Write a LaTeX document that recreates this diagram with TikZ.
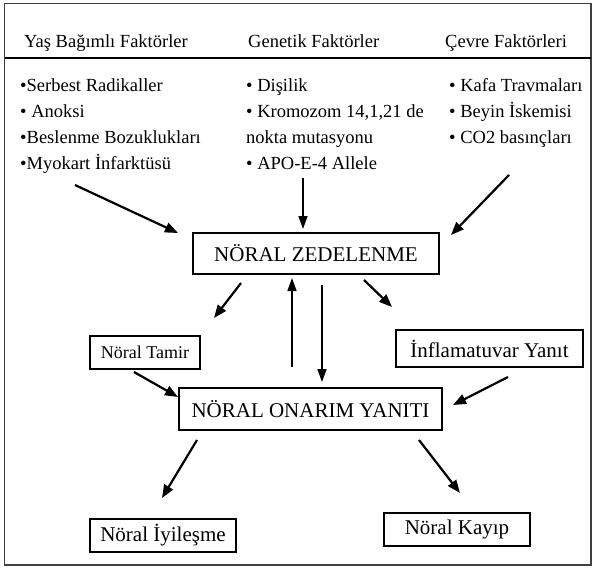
\documentclass[tikz,border=0pt]{standalone}
\usepackage{fontspec}
\setmainfont{Liberation Serif}
\usetikzlibrary{arrows.meta}
\begin{document}
\begin{tikzpicture}[x=1pt,y=-1pt,
  txt/.style={anchor=base west,inner sep=0pt,font=\fontsize{18.5}{20}\selectfont},
  bigbox/.style={draw,line width=1.8pt,inner sep=0pt,font=\fontsize{21}{24}\selectfont},
  smallbox/.style={draw,line width=1.8pt,inner sep=0pt,font=\fontsize{18}{20}\selectfont},
  arr/.style={line width=2.2pt,-{Triangle[length=13pt,width=10pt]}},
  varr/.style={line width=1.6pt,-{Triangle[length=13pt,width=9pt]}}]
\useasboundingbox (0,0) rectangle (594,568);
\draw[line width=1.4pt,black!75] (4.5,3.5) rectangle (591,565);
\coordinate (dl) at (4.5,58);
\coordinate (dr) at (591,58);
\draw[line width=1.4pt] (dl) -- (dr);
% headers
\node[txt] (h1) at (24,47) {Yaş Bağımlı Faktörler};
\node[txt] (h2) at (248,47) {Genetik Faktörler};
\node[txt] (h3) at (445,47) {Çevre Faktörleri};
% left list
\node[txt] (l1) at (20,91) {•Serbest Radikaller};
\node[txt] (l2) at (20,117) {• Anoksi};
\node[txt] (l3) at (20,143) {•Beslenme Bozuklukları};
\node[txt] (l4) at (20,169) {•Myokart İnfarktüsü};
% middle list
\node[txt] (m1) at (246,91) {• Dişilik};
\node[txt] (m2) at (246,117) {• Kromozom 14,1,21 de};
\node[txt] (m3) at (246,143) {nokta mutasyonu};
\node[txt] (m4) at (246,169) {• APO-E-4 Allele};
% right list
\node[txt] (r1) at (449,91) {• Kafa Travmaları};
\node[txt] (r2) at (449,117) {• Beyin İskemisi};
\node[txt] (r3) at (449,143) {• CO2 basınçları};
% boxes
\node[bigbox,minimum width=246pt,minimum height=41pt] (zed) at (316,253.5) {NÖRAL ZEDELENME};
\node[smallbox,minimum width=110pt,minimum height=33pt] (tamir) at (145,352.5) {Nöral Tamir};
\node[bigbox,minimum width=187pt,minimum height=37pt] (infl) at (489.5,348.5) {İnflamatuvar Yanıt};
\node[bigbox,minimum width=263pt,minimum height=42pt] (onarim) at (310.5,409) {NÖRAL ONARIM YANITI};
\node[bigbox,minimum width=146pt,minimum height=33pt] (iyi) at (163,535.5) {Nöral İyileşme};
\node[bigbox,minimum width=146pt,minimum height=33pt] (kayip) at (457,529.5) {Nöral Kayıp};
% arrow end points
\coordinate (a1s) at (75,185);   \coordinate (a1e) at (178,233);
\coordinate (a2s) at (303,178);  \coordinate (a2e) at (303,229);
\coordinate (a3s) at (509,175);  \coordinate (a3e) at (451,235);
\coordinate (a4s) at (241,283);  \coordinate (a4e) at (214,318);
\coordinate (a5s) at (292,367);  \coordinate (a5e) at (292,278);
\coordinate (a6s) at (322,285);  \coordinate (a6e) at (322,382);
\coordinate (a7s) at (364,280);  \coordinate (a7e) at (392,307);
\coordinate (a8s) at (134,372);  \coordinate (a8e) at (178,397);
\coordinate (a9s) at (508,377);  \coordinate (a9e) at (453,405);
\coordinate (a10s) at (197,440); \coordinate (a10e) at (162,498);
\coordinate (a11s) at (419,440); \coordinate (a11e) at (460,493);
\foreach \i in {1,3,4,7,8,9,10,11} {\draw[arr] (a\i s) -- (a\i e);}
\foreach \i in {2,5,6} {\draw[varr] (a\i s) -- (a\i e);}
\end{tikzpicture}
\end{document}
